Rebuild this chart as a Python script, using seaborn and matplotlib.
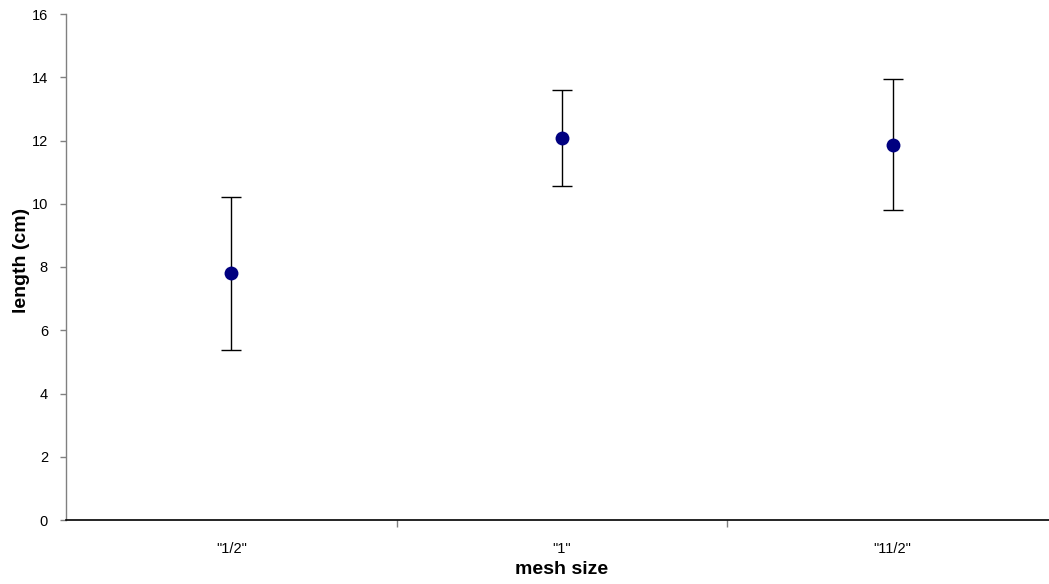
import matplotlib
matplotlib.use("Agg")
import matplotlib.pyplot as plt
import seaborn as sns
import pandas as pd

# values
mesh_sizes = ['"1/2"', '"1"', '"11/2"']
mean_length = [7.8, 12.08, 11.87]
err_length = [2.42, 1.53, 2.07]
y_ticks = [0, 2, 4, 6, 8, 10, 12, 14, 16]

df = pd.DataFrame({"mesh": mesh_sizes, "length": mean_length, "err": err_length})

sns.set_style("white")
plt.rcParams["font.family"] = ["Liberation Sans", "DejaVu Sans"]
plt.rcParams["text.color"] = "black"
plt.rcParams["xtick.color"] = "black"
plt.rcParams["ytick.color"] = "black"

fig = plt.figure(figsize=(10.49, 5.84), dpi=100)
ax = fig.add_axes([66 / 1049, 1 - 520 / 584, (1058 - 66) / 1049, (520 - 14) / 584])

ax.errorbar(x=range(len(df)), y=df["length"], yerr=df["err"], fmt="none",
            ecolor="black", elinewidth=1, capsize=7, capthick=1, zorder=2)
sns.scatterplot(data=df, x="mesh", y="length", ax=ax, color="#000080",
                s=100, marker="o", edgecolor="#000080", linewidth=0, zorder=3)

ax.set_xlim(-0.5, 2.5)
ax.set_ylim(0, 16)
ax.set_yticks(y_ticks)
ax.set_xticks(range(len(mesh_sizes)))
ax.set_xticklabels(mesh_sizes)
ax.set_xticks([0.5, 1.5], minor=True)

for side in ["top", "right"]:
    ax.spines[side].set_visible(False)
ax.spines["left"].set_color("#808080")
ax.spines["left"].set_linewidth(1)
ax.spines["bottom"].set_color("black")
ax.spines["bottom"].set_linewidth(1.2)

ax.tick_params(axis="y", left=True, length=4, width=1, color="#808080",
               labelcolor="black", labelsize=10.5, pad=9)
ax.tick_params(axis="x", which="major", bottom=False, labelcolor="black",
               labelsize=10.5, pad=12)
ax.tick_params(axis="x", which="minor", bottom=True, length=5, width=1,
               color="#808080")

ax.set_xlabel("")
ax.set_ylabel("")
fig.text(562 / 1049, 1 - 574 / 584, "mesh size", ha="center", va="baseline",
         fontsize=14, fontweight="bold")
fig.text(22 / 1049, 1 - 260 / 584, "length (cm)", ha="center", va="center",
         rotation=90, fontsize=14, fontweight="bold")

fig.savefig("out.png", dpi=100)
